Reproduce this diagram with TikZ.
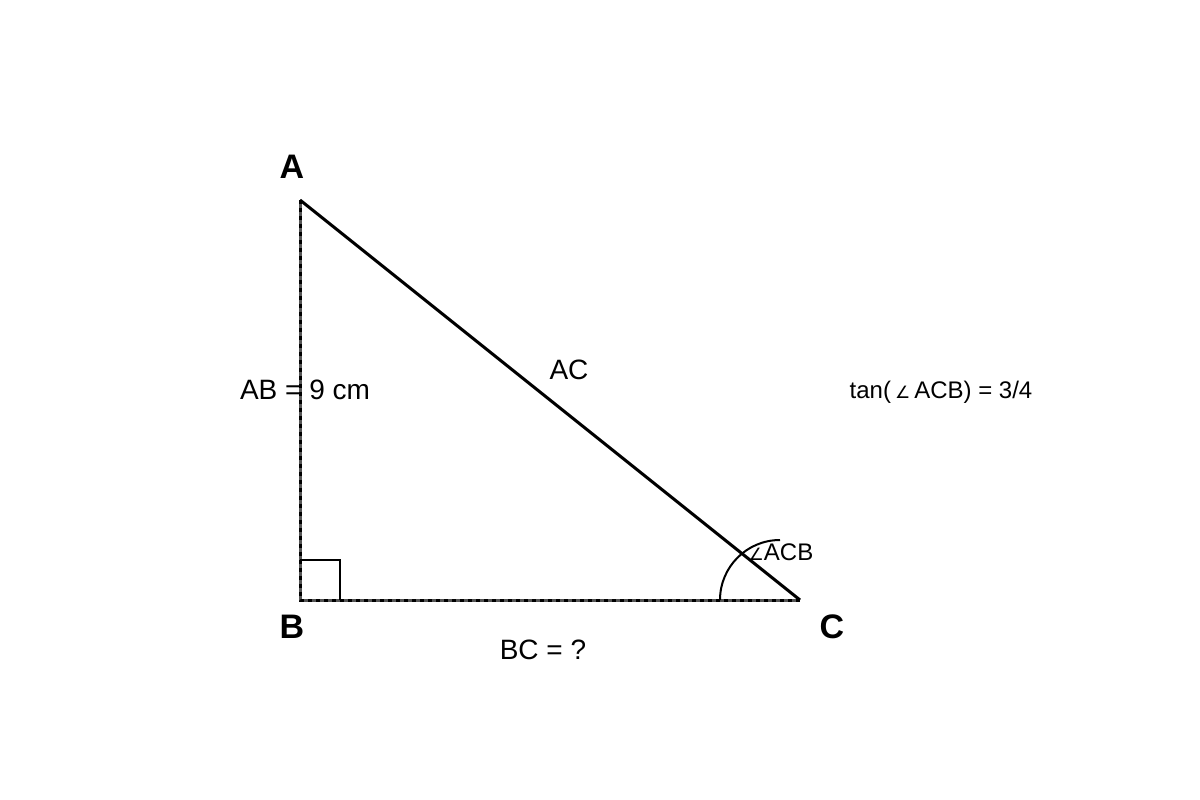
\documentclass[tikz,border=0pt]{standalone}
\usepackage{fontspec}
\setmainfont{Liberation Sans}
\newfontfamily\anglefont{DejaVu Sans}
\usepackage{tikz}
\definecolor{mylegcolor}{HTML}{555555}

\begin{document}
\begin{tikzpicture}[x=1pt, y=-1pt,
  vertexlabel/.style={font=\fontsize{34pt}{34pt}\selectfont\bfseries},
  sidelabel/.style={font=\fontsize{28pt}{28pt}\selectfont},
  smalllabel/.style={font=\fontsize{24pt}{24pt}\selectfont},
  legline/.style={draw=mylegcolor, line width=3pt},
  legdash/.style={draw=black, line width=3pt, dash pattern=on 4pt off 4pt},
  hypline/.style={draw=black, line width=3pt, line join=miter}]%
\useasboundingbox (0,0) rectangle (1200,800);%
\coordinate (A) at (300,200);%
\coordinate (B) at (300,600);%
\coordinate (C) at (800,600);%
\draw[legline] (A) -- (B) -- (C);%
\draw[legdash] (A) -- (B) -- (C);%
\draw[hypline] (A) -- (C);%
\draw[line width=2pt] (300,560) -- (340,560) -- (340,600);%
\draw[line width=2pt] (720,600) arc[start angle=180, end angle=270, radius=60];%
\node[vertexlabel] (labelA) at (292,167) {A};%
\node[vertexlabel] (labelB) at (292,627) {B};%
\node[vertexlabel] (labelC) at (832,627) {C};%
\node[sidelabel] (labelAB) at (305,390) {AB = 9 cm};%
\node[sidelabel] (labelAC) at (569,370) {AC};%
\node[sidelabel] (labelBC) at (543,650) {BC = ?};%
\node[smalllabel] (labelACB) at (781,552) {{\anglefont\fontsize{17pt}{17pt}\selectfont ∠}ACB};%
\node[smalllabel] (labeltan) at (941,392) {tan(\,{\anglefont\fontsize{17pt}{17pt}\selectfont ∠}\,ACB) = 3/4};%
\end{tikzpicture}
\end{document}
